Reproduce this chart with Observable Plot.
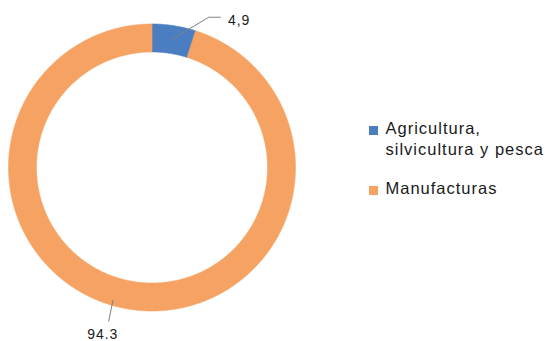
<!DOCTYPE html>
<html>
<head>
<meta charset="utf-8">
<script src="https://cdn.jsdelivr.net/npm/d3@7"></script>
<script src="https://cdn.jsdelivr.net/npm/@observablehq/plot@0.6"></script>
<style>
  html, body { margin: 0; padding: 0; background: #fff; }
  #wrap { position: relative; width: 545px; height: 341px; overflow: hidden;
          font-family: "Liberation Sans", Arial, Helvetica, sans-serif; color: #1a1a1a; }
  #chart { position: absolute; left: 0; top: 0; }
  .leg { position: absolute; left: 369px; font-size: 16.5px; line-height: 20.7px; letter-spacing: 1px; }
  .leg .sw { position: absolute; left: 0; width: 9px; height: 9px; }
  .leg .tx { position: absolute; left: 16.5px; white-space: nowrap; }
</style>
</head>
<body>
<div id="wrap"><div id="chart"></div><div id="legend"></div></div>
<script>
// ---- data ----
const categories = ["Agricultura, silvicultura y pesca", "Manufacturas"];
const legendLines = [["Agricultura,", "silvicultura y pesca"], ["Manufacturas"]];
const values = [4.9, 94.3];
const valueLabels = ["4,9", "94.3"];
const colors = ["#4a7ec0", "#f5a263"];

// ---- layout (styling only) ----
const innerRatio = 0.805;
const labelLayout = [
  {r: 0.905, shiftDeg: 0,   path: [[0.256, 0.153], [0.337, 0.153]], dx: 7.5, dy: 3,    anchor: "start"},
  {r: 0.966, shiftDeg: 7.5, path: [[-0.0287, -0.143]],               dx: -6,  dy: 13.5, anchor: "middle"}
];

const arcs = d3.pie().sort(null).value(d => d)(values);

const ring = [];
arcs.forEach((p, i) => {
  const n = Math.max(2, Math.ceil((p.endAngle - p.startAngle) / 0.005));
  for (let k = 0; k <= n; k++) {
    const a = p.startAngle + (p.endAngle - p.startAngle) * k / n;
    ring.push({cat: categories[i], x: Math.sin(a), y: Math.cos(a)});
  }
  for (let k = n; k >= 0; k--) {
    const a = p.startAngle + (p.endAngle - p.startAngle) * k / n;
    ring.push({cat: categories[i], x: innerRatio * Math.sin(a), y: innerRatio * Math.cos(a)});
  }
});

const leaders = [];
const labels = [];
arcs.forEach((p, i) => {
  const L = labelLayout[i];
  const a = (p.startAngle + p.endAngle) / 2 + L.shiftDeg * Math.PI / 180;
  const ax = L.r * Math.sin(a), ay = L.r * Math.cos(a);
  leaders.push({cat: categories[i], x: ax, y: ay});
  let ex = ax, ey = ay;
  L.path.forEach(([ox, oy]) => { ex = ax + ox; ey = ay + oy; leaders.push({cat: categories[i], x: ex, y: ey}); });
  labels.push({cat: categories[i], label: valueLabels[i], x: ex, y: ey, dx: L.dx, dy: L.dy, anchor: L.anchor});
});

const marks = categories.map((c, i) =>
  Plot.line(ring.filter(d => d.cat === c), {x: "x", y: "y", curve: "linear-closed",
    fill: colors[i], stroke: colors[i], strokeWidth: 0.6})
);
marks.push(Plot.line(leaders, {x: "x", y: "y", z: "cat", stroke: "#808080", strokeWidth: 1}));
labels.forEach(l => marks.push(
  Plot.text([l], {x: "x", y: "y", text: "label", dx: l.dx, dy: l.dy, textAnchor: l.anchor,
    fontSize: 14, fill: "#1a1a1a"})
));

const chart = Plot.plot({
  width: 545, height: 341,
  marginLeft: 8, marginRight: 250, marginTop: 23.5, marginBottom: 30.5,
  x: {domain: [-1, 1], axis: null},
  y: {domain: [-1, 1], axis: null},
  style: {fontFamily: '"Liberation Sans", Arial, sans-serif', letterSpacing: "1px", background: "transparent", overflow: "visible"},
  marks
});
document.getElementById("chart").appendChild(chart);

// ---- legend ----
const legend = document.getElementById("legend");
const legTops = [118.2, 178.2];
categories.forEach((c, i) => {
  const item = document.createElement("div");
  item.className = "leg";
  item.style.top = legTops[i] + "px";
  const sw = document.createElement("div");
  sw.className = "sw"; sw.style.background = colors[i]; sw.style.top = "8px";
  const tx = document.createElement("div");
  tx.className = "tx"; tx.innerHTML = legendLines[i].join("<br>");
  item.appendChild(sw); item.appendChild(tx);
  legend.appendChild(item);
});
</script>
</body>
</html>
